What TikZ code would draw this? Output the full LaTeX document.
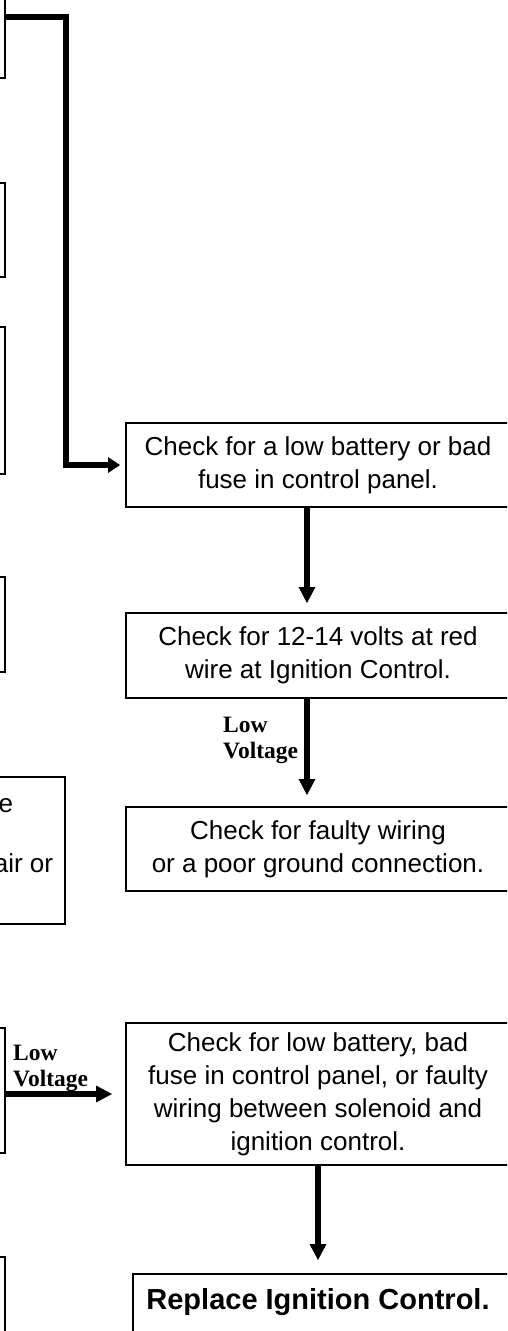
\documentclass[tikz,border=0pt]{standalone}
\usepackage{fontspec}
\setmainfont{Liberation Sans}
\newfontfamily\lvfont{Liberation Serif}
\usetikzlibrary{arrows.meta,calc}
\tikzset{
 box/.style={draw, line width=2.8pt, inner sep=0pt, outer sep=0pt, font=\fontsize{26}{33}\selectfont},
 lbox/.style={draw, line width=2.6pt, inner sep=0pt, outer sep=0pt},
 conn/.style={line width=5.5pt, -{Triangle[length=16pt,width=17pt,line width=0pt]}},
 lbl/.style={font=\lvfont\bfseries\fontsize{23.5}{26}\selectfont, align=left, inner sep=0pt},
 frag/.style={font=\fontsize{26}{33}\selectfont, inner sep=0pt},
}
\begin{document}
\begin{tikzpicture}[x=1pt,y=-1pt]
\useasboundingbox (0,0) rectangle (507,1331);
\clip (0,0) rectangle (507,1331);
% left column (partly visible)
\node[lbox, minimum width=305pt, minimum height=122pt] (L1) at (-147.5,17) {};
\node[lbox, minimum width=305pt, minimum height=94pt] (L2) at (-147.5,230) {};
\node[lbox, minimum width=305pt, minimum height=147pt] (L3) at (-147.5,400.5) {};
\node[lbox, minimum width=305pt, minimum height=95pt] (L4) at (-147.5,624.5) {};
\node[lbox, minimum width=365pt, minimum height=147pt] (L5) at (-117.5,850.5) {};
\node[lbox, minimum width=305pt, minimum height=125pt] (L6) at (-147.5,1090.5) {};
\node[lbox, minimum width=305pt, minimum height=143pt] (L7) at (-147.5,1328.5) {};
\node[frag, anchor=base east] (f1) at (13.3,812) {e};
\node[frag, anchor=base east] (f2) at (53.3,872) {air or};
% right column
\node[box, align=center, minimum width=384pt, minimum height=84pt] (A) at (318,465) {Check for a low battery or bad\\fuse in control panel.};
\node[box, align=center, minimum width=384pt, minimum height=85pt] (B) at (318,655.5) {Check for 12-14 volts at red\\wire at Ignition Control.};
\node[box, align=center, minimum width=384pt, minimum height=84pt] (C) at (318,849) {Check for faulty wiring\\or a poor ground connection.};
\node[box, align=center, minimum width=384pt, minimum height=142pt] (D) at (318,1094) {Check for low battery, bad\\fuse in control panel, or faulty\\wiring between solenoid and\\ignition control.};
\node[box, anchor=north, minimum width=377pt, text height=35pt, text depth=60pt, font=\bfseries\fontsize{29}{33}\selectfont] (E) at (321.5,1274) {Replace Ignition Control.\hspace*{7pt}};
% connectors
\coordinate (bend) at (66,17);
\draw[conn, -{Triangle[length=12pt,width=16pt,line width=0pt]}, shorten >=6pt] (L1.east) -- (bend) |- (A.west);
\draw[conn, shorten >=10pt] ([xshift=-11pt]A.south) -- ([xshift=-11pt]B.north);
\draw[conn, shorten >=12pt] ([xshift=-11pt]B.south) -- ([xshift=-11pt]C.north);
\draw[conn, shorten >=14pt] (D.south) -- (D.south |- E.north);
\draw[conn, shorten >=14pt] (L6.east |- D.west) -- (D.west);
\node[lbl, anchor=base west] (lv1) at (223,758) {Low\\Voltage};
\node[lbl, anchor=base west] (lv2) at (13,1086) {Low\\Voltage};
\end{tikzpicture}
\end{document}
